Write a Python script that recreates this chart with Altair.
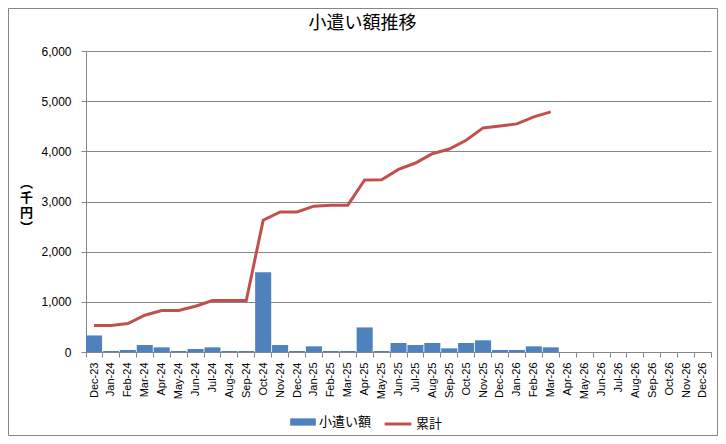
import altair as alt
import pandas as pd

months = ["Dec-23", "Jan-24", "Feb-24", "Mar-24", "Apr-24", "May-24", "Jun-24",
          "Jul-24", "Aug-24", "Sep-24", "Oct-24", "Nov-24", "Dec-24", "Jan-25",
          "Feb-25", "Mar-25", "Apr-25", "May-25", "Jun-25", "Jul-25", "Aug-25",
          "Sep-25", "Oct-25", "Nov-25", "Dec-25", "Jan-26", "Feb-26", "Mar-26",
          "Apr-26", "May-26", "Jun-26", "Jul-26", "Aug-26", "Sep-26", "Oct-26",
          "Nov-26", "Dec-26"]

amounts = [330, 20, 40, 140, 93, 20, 60, 93, 20, 20, 1590, 140, 20, 113,
           20, 20, 490, 20, 180, 140, 180, 73, 180, 233, 40, 40, 113, 93,
           None, None, None, None, None, None, None, None, None]

cumulative = [530, 530, 567, 733, 827, 827, 913, 1027, 1027, 1027, 2627, 2793,
              2793, 2907, 2927, 2927, 3430, 3433, 3640, 3767, 3953, 4047, 4220,
              4467, 4507, 4547, 4687, 4787,
              None, None, None, None, None, None, None, None, None]

bar_name = "小遣い額"
line_name = "累計"
y_ticks = [0, 1000, 2000, 3000, 4000, 5000, 6000]

df = pd.DataFrame({
    "month": months,
    "amount": amounts,
    "cumulative": cumulative,
    "s1": bar_name,
    "s2": line_name,
})

GRAY = "#868686"
LATIN = "Liberation Sans, Arial, Noto Sans CJK JP"
CJK = "Noto Sans CJK JP"

x_enc = alt.X(
    "month:N",
    sort=months,
    scale=alt.Scale(domain=months, paddingInner=0.05, paddingOuter=0),
    axis=alt.Axis(
        title=None,
        labelAngle=-90,
        labelAlign="right",
        labelBaseline="middle",
        labelPadding=5,
        labelFont=LATIN,
        labelFontSize=11,
        labelColor="#000000",
        tickBand="extent",
        tickSize=5,
        tickColor=GRAY,
        domainColor=GRAY,
        grid=False,
        labelOverlap=False,
    ),
)

y_axis = alt.Axis(
    values=y_ticks,
    format=",d",
    title=["︵", "千", "円", "︶"],
    titleAngle=0,
    titleFont=CJK,
    titleFontSize=13,
    titleFontWeight="bold",
    titleLineHeight=15,
    titleAlign="center",
    titleBaseline="middle",
    titleX=-60,
    titleY=131,
    labelFont=LATIN,
    labelFontSize=12,
    labelColor="#000000",
    labelPadding=10,
    tickSize=5,
    tickColor=GRAY,
    domainColor=GRAY,
    gridColor=GRAY,
    grid=True,
)

bars = alt.Chart(df).mark_bar(color="#4F81BD").encode(
    x=x_enc,
    y=alt.Y("amount:Q", scale=alt.Scale(domain=[0, 6000], nice=False), axis=y_axis),
    color=alt.Color(
        "s1:N",
        scale=alt.Scale(domain=[bar_name], range=["#4F81BD"]),
        legend=alt.Legend(
            title=None,
            orient="none",
            legendX=204,
            legendY=358,
            symbolType="M-1,-0.285L1,-0.285L1,0.285L-1,0.285Z",
            symbolSize=660,
            symbolStrokeWidth=0,
            symbolOpacity=1,
            labelFont=CJK,
            labelFontSize=13,
            labelColor="#000000",
            labelOffset=3,
            padding=0,
        ),
    ),
)

line = alt.Chart(df).mark_line(color="#C0504D", strokeWidth=3).encode(
    x=alt.X("month:N", sort=months),
    y=alt.Y("cumulative:Q"),
    color=alt.Color(
        "s2:N",
        scale=alt.Scale(domain=[line_name], range=["#C0504D"]),
        legend=alt.Legend(
            title=None,
            orient="none",
            legendX=297,
            legendY=358,
            symbolType="stroke",
            symbolSize=710,
            symbolStrokeWidth=3,
            labelFont=CJK,
            labelFontSize=13,
            labelColor="#000000",
            labelOffset=3,
            padding=0,
        ),
    ),
)

frame = alt.Chart(alt.Data(values=[{"k": 1}])).mark_rect(
    filled=False, stroke=GRAY, strokeWidth=1
).encode(
    x=alt.value(-77.5), x2=alt.value(631.5),
    y=alt.value(-42.5), y2=alt.value(384.5),
)

chart = (
    alt.layer(bars, line, frame)
    .resolve_scale(color="independent")
    .resolve_legend(color="independent")
    .properties(
        width=625,
        height=301,
        autosize=alt.AutoSizeParams(type="none"),
        padding={"left": 78, "top": 43, "right": 7, "bottom": 84},
        title=alt.TitleParams(
            text="小遣い額推移",
            font=CJK,
            fontSize=18,
            fontWeight="normal",
            color="#000000",
            anchor="middle",
            dx=-36,
            dy=39,
            offset=14,
        ),
        background="#ffffff",
    )
    .configure_view(stroke="transparent")
)

chart.save("out.html", embed_options={"renderer": "svg", "actions": False})
